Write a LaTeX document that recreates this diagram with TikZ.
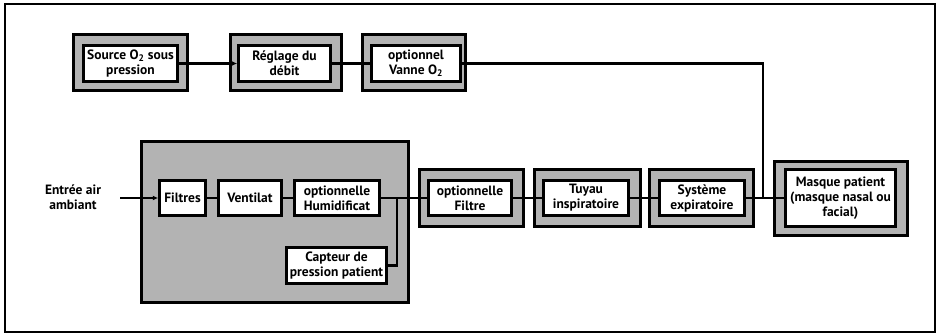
\documentclass[tikz,border=0pt]{standalone}
\usepackage{fontspec}
\setmainfont{PT Sans}
\usetikzlibrary{arrows.meta}
\definecolor{boxgray}{RGB}{179,179,179}
\begin{document}
\begin{tikzpicture}[x=1pt,y=-1pt,
  frame/.style={draw,fill=boxgray,line width=2.8pt,inner sep=0pt},
  box/.style={draw,fill=white,line width=2.5pt,align=center,inner sep=1pt,
    font=\fontsize{13.5}{15}\selectfont\bfseries},
  lab/.style={align=center,inner sep=0pt,font=\fontsize{13.5}{15}\selectfont\bfseries},
  conn/.style={line width=2.2pt},
  arr/.style={conn,-{Latex[length=5.5pt,width=5pt]}}]

\useasboundingbox (0,0) rectangle (938,335);
\draw[line width=2.4pt] (5,4) rectangle (935,332);

% Oxygen line (top row).
\node[frame,minimum width=114pt,minimum height=56pt] (srcF) at (130.5,62.5) {};
\node[frame,minimum width=111pt,minimum height=56pt] (debF) at (286,62.5) {};
\node[frame,minimum width=103pt,minimum height=56pt] (vanF) at (414,62.5) {};
\node[box,minimum width=94pt,minimum height=36pt] (src) at (130.5,63.5) {Source O\textsubscript{2} sous\\pression};
\node[box,minimum width=92pt,minimum height=36pt] (deb) at (284.5,63.5) {Réglage du\\débit};
\node[box,minimum width=89pt,minimum height=36pt] (van) at (416,63.5) {optionnel\\Vanne O\textsubscript{2}};

% Ventilator housing.
\node[frame,minimum width=267pt,minimum height=161pt] (vent) at (275,222) {};
\node[box,minimum width=46pt,minimum height=35pt] (fil) at (182.5,198) {Filtres};
\node[box,minimum width=63pt,minimum height=35pt] (ven) at (250,198) {Ventilat};
\node[box,minimum width=85pt,minimum height=35pt] (hum) at (337,198) {optionnelle\\Humidificat};
\node[box,minimum width=100pt,minimum height=36pt] (cap) at (336.5,265.5) {Capteur de\\pression patient};

% Patient circuit.
\node[frame,minimum width=104pt,minimum height=57pt] (filtF) at (471.5,198) {};
\node[frame,minimum width=106pt,minimum height=57pt] (tuyF) at (587.5,198) {};
\node[frame,minimum width=104pt,minimum height=57pt] (sysF) at (701.5,198) {};
\node[frame,minimum width=133pt,minimum height=74pt] (masF) at (841,198.5) {};
\node[box,minimum width=83pt,minimum height=35pt] (filt) at (470,198) {optionnelle\\Filtre};
\node[box,minimum width=85pt,minimum height=35pt] (tuy) at (586,198) {Tuyau\\inspiratoire};
\node[box,minimum width=85pt,minimum height=35pt] (sys) at (702,198) {Système\\expiratoire};
\node[box,minimum width=110pt,minimum height=57pt] (mas) at (840.5,198) {Masque patient\\(masque nasal ou\\facial)};

\node[lab] (air) at (73,197.5) {Entrée air\\ambiant};
\coordinate (airin) at (120,198);
\coordinate (tap) at (397,198);
\coordinate (tee) at (763,198);

% Connectors.
\draw[arr] (src) -- (deb);
\draw[conn] (deb) -- (van);
\draw[conn] (van.east) -| (tee);
\draw[arr] (airin) -- (fil);
\draw[conn] (fil) -- (ven);
\draw[conn] (ven) -- (hum);
\draw[conn] (hum) -- (filt);
\draw[conn] (tap) |- (cap.east);
\draw[conn] (filt) -- (tuy);
\draw[conn] (tuy) -- (sys);
\draw[conn] (sys) -- (mas);
\end{tikzpicture}
\end{document}
